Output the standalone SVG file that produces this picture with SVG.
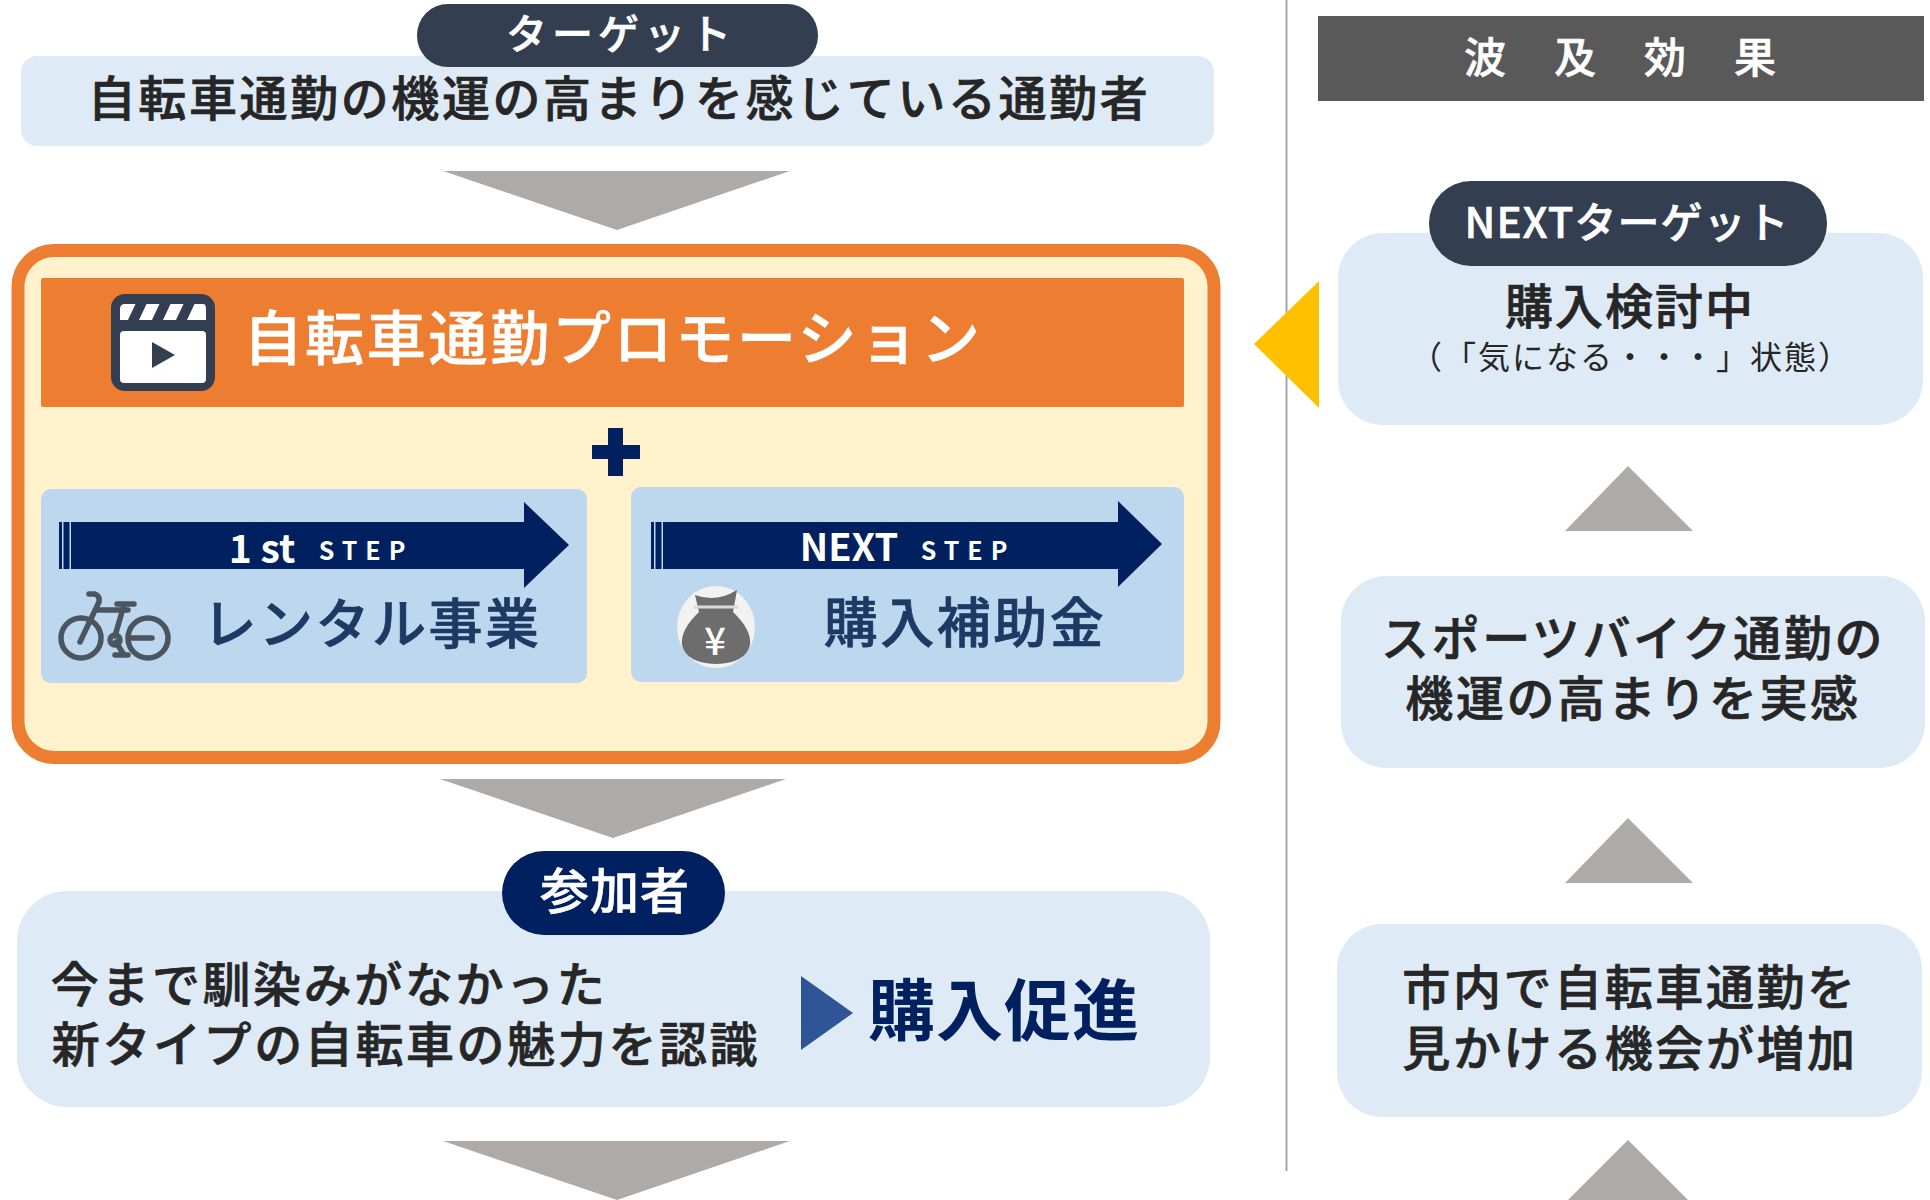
<svg xmlns="http://www.w3.org/2000/svg" width="1930" height="1200" viewBox="0 0 1930 1200">
<style>
text{font-family:"Noto Sans CJK JP","Noto Sans",sans-serif;text-anchor:middle;text-spacing-trim:space-all}
.l{fill:#deeaf6}.g{fill:#aeaaaa}.m{font-size:48px;font-weight:500;fill:#262626;letter-spacing:2.600px;stroke:#262626;stroke-width:.7px}
.b{fill:#bdd7ee}.n{fill:#002060}.s{font-size:25px;font-weight:700;fill:#fff;letter-spacing:8px}
.d{fill:#333f50}.t{font-size:54px;font-weight:500;fill:#1f3864;letter-spacing:2.500px;stroke:#1f3864;stroke-width:.7px}
.wt{fill:#fff;stroke:#fff;stroke-width:.6px;font-weight:500}
</style>
<g id="connectors">
<path id="line" d="M1286.500 0V1171" stroke="#a6a6a6" stroke-width="2" fill="none"/>
<polygon class="g" points="443,171 790,171 617,230"/>
<polygon class="g" points="440,779 786,779 613,838"/>
<polygon class="g" points="443,1141 790,1141 617,1200"/>
<polygon class="g" points="1628,466 1693,531 1565,531"/>
<polygon class="g" points="1628,818 1693,883 1565,883"/>
<polygon class="g" points="1628,1140 1693,1205 1563,1205"/>
</g>
<g id="target">
<rect class="l" x="21" y="56" width="1193" height="90" rx="16"/>
<rect class="d" x="417" y="4" width="401" height="63" rx="31"/>
<text class="wt" x="621" y="49" font-size="41" letter-spacing="5">ターゲット</text>
<text class="m" x="619" y="116">自転車通勤の機運の高まりを感じている通勤者</text>
</g>
<g id="promo">
<rect x="18" y="250.500" width="1196" height="507" rx="36" fill="#fff2cc" stroke="#ed7d31" stroke-width="13"/>
<rect x="41" y="278" width="1143" height="129" rx="2" fill="#ed7d31"/>
<g id="icon-clapper">
<rect x="111" y="294" width="104" height="97" rx="14" fill="#333f50"/>
<rect x="120" y="331" width="86" height="52" rx="4" fill="#fff"/>
<path d="M120 320V309q0-5 5-5H203q3 0 3 5V320Z" fill="#fff"/>
<path d="M136 303H147L138 322H127ZM160 303H171L162 322H151ZM184 303H195L186 322H175Z" fill="#333f50"/>
<polygon points="152,342 152,368 175,355" fill="#333f50"/>
</g>
<text class="wt" x="613" y="360" font-size="59" letter-spacing="2.700">自転車通勤プロモーション</text>
<path class="n" d="M608 428H623V445H640V459H623V476H608V459H592V445H608Z"/>
</g>
<g id="step1">
<rect class="b" x="41" y="489" width="546" height="194" rx="10"/>
<path class="n" d="M59 522H62V569H59ZM63.500 522H69.500V569H63.500ZM71 522H524V502L569 545L524 588V569H71Z"/>
<text x="262" y="563" font-size="39" font-weight="700" fill="#fff">1 st</text>
<text class="s" x="366" y="560">STEP</text>
<g id="icon-bike" fill="none" stroke="#4a5560" stroke-width="5.500" stroke-linecap="round">
<circle cx="81" cy="638" r="20"/><circle cx="148" cy="638" r="20"/>
<path d="M89 594H95Q100 596 99 602L80 642M97 610H128M117 604H134M124 605L115 636M116 642L124 655M115 655H128M130 638H152"/>
<circle cx="115" cy="640" r="5"/>
</g>
<text class="t" x="372" y="644">レンタル事業</text>
</g>
<g id="step2">
<rect class="b" x="631" y="487" width="553" height="195" rx="10"/>
<path class="n" d="M651 522H654V569H651ZM655.500 522H661.500V569H655.500ZM663 522H1118V501L1162 544L1118 587V569H663Z"/>
<text x="849" y="561" font-size="38" font-weight="700" fill="#fff">NEXT</text>
<text class="s" x="968" y="560">STEP</text>
<g id="icon-bag">
<ellipse cx="716" cy="627" rx="39" ry="41" fill="#f2f2f2"/>
<path d="M695 595Q716 603 737 590L733 612Q752 630 750 645Q746 663 716 664Q686 663 682 645Q680 630 699 612Z" fill="#6d6d6d"/>
<path d="M694 607H738" stroke="#d9d9d9" stroke-width="3"/>
<text x="715" y="655" font-size="38" font-weight="500" fill="#fff">¥</text>
</g>
<text class="t" x="965" y="643">購入補助金</text>
</g>
<g id="participants">
<rect class="l" x="17" y="891" width="1193" height="216" rx="50"/>
<rect class="n" x="502" y="851" width="223" height="84" rx="42"/>
<text class="wt" x="615" y="909" font-size="49" letter-spacing="1">参加者</text>
<text class="m" x="329" y="1002">今まで馴染みがなかった</text>
<text class="m" x="406" y="1062">新タイプの自転車の魅力を認識</text>
<polygon points="801,976 853,1013 801,1050" fill="#2f5597"/>
<text x="1004" y="1035" font-size="67" font-weight="700" fill="#002060" letter-spacing="1">購入促進</text>
</g>
<g id="effect-header">
<rect x="1318" y="16" width="606" height="85" fill="#595959"/>
<text class="wt" x="1644" y="73" font-size="42" letter-spacing="48">波及効果</text>
</g>
<g id="next-target">
<rect class="l" x="1338" y="233" width="585" height="192" rx="45"/>
<rect class="d" x="1429" y="181" width="398" height="85" rx="42"/>
<text class="wt" x="1627" y="238" font-size="42" letter-spacing="1">NEXTターゲット</text>
<text x="1630" y="324" font-size="48" font-weight="500" fill="#262626" letter-spacing="2" stroke="#262626" stroke-width=".7">購入検討中</text>
<text x="1631" y="369" font-size="32" fill="#262626" letter-spacing="2">（「気になる・・・」状態）</text>
<polygon points="1319,281 1319,408 1254,344" fill="#ffc000"/>
</g>
<g id="effect2">
<rect class="l" x="1341" y="576" width="584" height="192" rx="45"/>
<text class="m" x="1633" y="656">スポーツバイク通勤の</text>
<text class="m" x="1633" y="716">機運の高まりを実感</text>
</g>
<g id="effect3">
<rect class="l" x="1337" y="924" width="585" height="193" rx="45"/>
<text class="m" x="1630" y="1005">市内で自転車通勤を</text>
<text class="m" x="1630" y="1066">見かける機会が増加</text>
</g>
</svg>
